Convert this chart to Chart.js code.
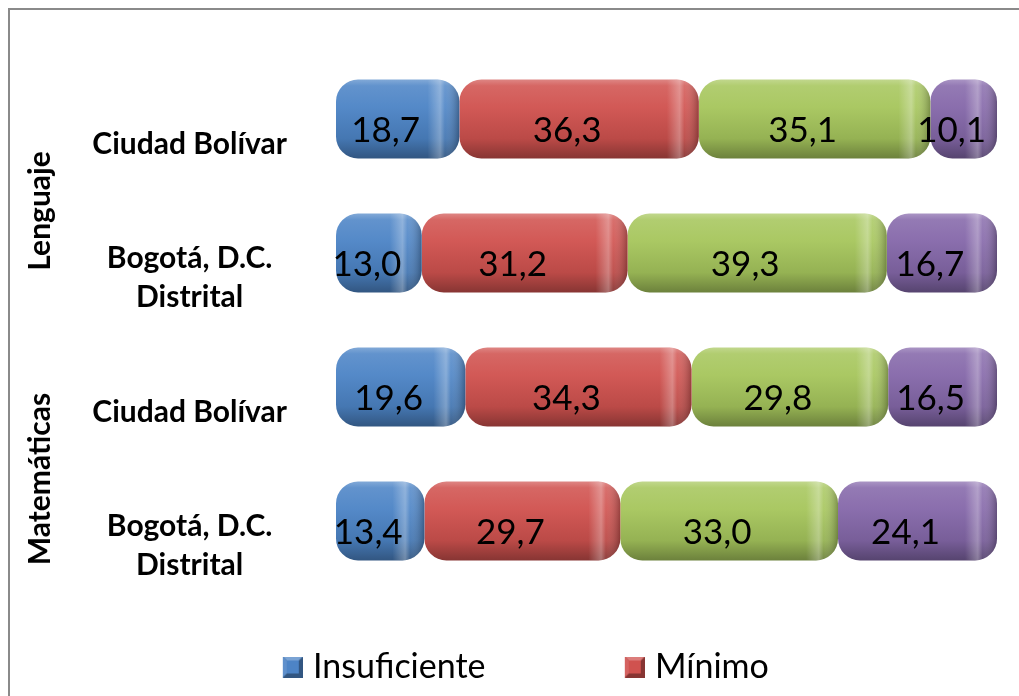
<!DOCTYPE html>
<html>
<head>
<meta charset="utf-8">
<script src="https://cdn.jsdelivr.net/npm/chart.js@4.4.1/dist/chart.umd.min.js"></script>
<style>
    html, body { margin: 0; padding: 0; background: #fff; overflow: hidden; }
    #marco { position: absolute; left: 8px; top: 8px; width: 1100px; height: 800px; border: 2px solid #8a8a8a; }
    #grafico { position: absolute; left: 0; top: 0; }
</style>
</head>
<body>
<div id="marco"><canvas id="grafico" width="1060" height="780"></canvas></div>
<script>
// Datos del gráfico
const categorias = ['Ciudad Bolívar', ['Bogotá, D.C.', 'Distrital'], 'Ciudad Bolívar', ['Bogotá, D.C.', 'Distrital']];
const areas = ['Lenguaje', 'Matemáticas'];
const niveles = ['Insuficiente', 'Mínimo', 'Satisfactorio', 'Avanzado'];
const insuficiente = [18.7, 13.0, 19.6, 13.4];
const minimo = [36.3, 31.2, 34.3, 29.7];
const satisfactorio = [35.1, 39.3, 29.8, 33.0];
const avanzado = [10.1, 16.7, 16.5, 24.1];
const colores = ['#4d84c6', '#d0524f', '#a6c65c', '#8568aa'];

const series = [insuficiente, minimo, satisfactorio, avanzado];
const totalMax = Math.max(...categorias.map((_, j) => series.reduce((s, arr) => s + arr[j], 0)));

const FUENTE = "Lato, 'Liberation Sans', sans-serif";
const BAR_PCT = 0.59;
const RADIO = 22;
const DESPLAZ = 25; // las etiquetas van un poco más abajo que las barras (efecto 3D)

// mezcla un color con blanco (t > 0) o negro (t < 0)
function mezcla(hex, t) {
    const n = parseInt(hex.slice(1), 16);
    const rgb = [(n >> 16) & 255, (n >> 8) & 255, n & 255];
    const fin = t > 0 ? 255 : 0;
    const a = Math.abs(t);
    return 'rgb(' + rgb.map((c) => Math.round(c + (fin - c) * a)).join(',') + ')';
}

// relleno tipo cilindro: degradado vertical en cada barra
function cilindro(hex) {
    return (ctx) => {
        const y = ctx.chart.scales.y;
        if (!y || ctx.dataIndex === undefined) return hex;
        const centro = y.getPixelForValue(ctx.dataIndex);
        const paso = Math.abs(y.getPixelForValue(1) - y.getPixelForValue(0));
        const mitad = paso * BAR_PCT / 2;
        if (!isFinite(centro) || !isFinite(mitad) || mitad <= 0) return hex;
        const g = ctx.chart.ctx.createLinearGradient(0, centro - mitad, 0, centro + mitad);
        g.addColorStop(0, mezcla(hex, 0.3));
        g.addColorStop(0.08, mezcla(hex, 0.12));
        g.addColorStop(0.35, mezcla(hex, 0.04));
        g.addColorStop(0.75, mezcla(hex, -0.1));
        g.addColorStop(1, mezcla(hex, -0.35));
        return g;
    };
}

// medidas de la leyenda
const PAD_LEYENDA = 62;
const medidor = document.createElement('canvas').getContext('2d');
medidor.font = '34px ' + FUENTE;
const anchoInsuf = medidor.measureText(niveles[0]).width;
const anchoCaja = 342 - 17 - anchoInsuf - PAD_LEYENDA;
const margenIzq = 303 - anchoCaja - 17 - PAD_LEYENDA;

// icono biselado de la leyenda, pegado al texto
function iconoLeyenda(hex) {
    const c = document.createElement('canvas');
    c.width = Math.round(anchoCaja + 14);
    c.height = 21;
    const g = c.getContext('2d');
    const x = c.width - 20;
    g.fillStyle = mezcla(hex, -0.35);
    g.fillRect(x, 0, 20, 21);
    g.fillStyle = mezcla(hex, 0.25);
    g.beginPath(); g.moveTo(x, 0); g.lineTo(x + 20, 0); g.lineTo(x + 16, 4); g.lineTo(x + 4, 4); g.closePath(); g.fill();
    g.fillStyle = mezcla(hex, 0.1);
    g.beginPath(); g.moveTo(x, 0); g.lineTo(x + 4, 4); g.lineTo(x + 4, 17); g.lineTo(x, 21); g.closePath(); g.fill();
    g.fillStyle = hex;
    g.fillRect(x + 4, 4, 12, 13);
    return c;
}
const iconos = colores.map(iconoLeyenda);

// el eje de categorías recorta sus textos a su caja: la abrimos hasta el borde
const ejeAbierto = {
    id: 'ejeAbierto',
    afterLayout(chart) {
        chart.scales.y.left = 0;
    }
};

// brillo en el extremo derecho de cada cilindro
const brilloCilindro = {
    id: 'brilloCilindro',
    afterDatasetsDraw(chart) {
        const ctx = chart.ctx;
        chart.data.datasets.forEach((ds, i) => {
            chart.getDatasetMeta(i).data.forEach((bar) => {
                const { x, base, y, height } = bar.getProps(['x', 'base', 'y', 'height'], true);
                const izq = Math.min(x, base), der = Math.max(x, base), arriba = y - height / 2;
                ctx.save();
                ctx.beginPath();
                ctx.roundRect(izq, arriba, der - izq, height, RADIO);
                ctx.clip();
                const g = ctx.createLinearGradient(der - 32, 0, der, 0);
                g.addColorStop(0, 'rgba(255,255,255,0)');
                g.addColorStop(0.4, 'rgba(255,255,255,0.3)');
                g.addColorStop(0.55, 'rgba(255,255,255,0.05)');
                g.addColorStop(1, 'rgba(0,0,0,0.28)');
                ctx.fillStyle = g;
                ctx.fillRect(der - 32, arriba, 32, height);
                ctx.restore();
            });
        });
    }
};

// valores dentro de cada segmento
const etiquetasValores = {
    id: 'etiquetasValores',
    afterDatasetsDraw(chart) {
        const ctx = chart.ctx;
        ctx.save();
        ctx.font = '35px ' + FUENTE;
        ctx.fillStyle = '#000';
        ctx.textAlign = 'center';
        ctx.textBaseline = 'middle';
        chart.data.datasets.forEach((ds, i) => {
            chart.getDatasetMeta(i).data.forEach((bar, j) => {
                const p = bar.getCenterPoint();
                ctx.fillText(ds.data[j].toFixed(1).replace('.', ','), p.x - 12, p.y + 12);
            });
        });
        ctx.restore();
    }
};

// nombres de las áreas, en vertical
const etiquetasAreas = {
    id: 'etiquetasAreas',
    afterDraw(chart) {
        const y = chart.scales.y;
        const ctx = chart.ctx;
        ctx.save();
        ctx.font = 'bold 30px ' + FUENTE;
        ctx.fillStyle = '#000';
        ctx.textAlign = 'center';
        ctx.textBaseline = 'middle';
        areas.forEach((texto, k) => {
            const yc = (y.getPixelForValue(2 * k) + y.getPixelForValue(2 * k + 1)) / 2 + DESPLAZ;
            ctx.save();
            ctx.translate(30, yc);
            ctx.rotate(-Math.PI / 2);
            ctx.fillText(texto, 0, 0);
            ctx.restore();
        });
        ctx.restore();
    }
};

new Chart(document.getElementById('grafico'), {
    type: 'bar',
    data: {
        labels: categorias,
        datasets: niveles.map((nombre, i) => ({
            label: nombre,
            data: series[i],
            backgroundColor: cilindro(colores[i]),
            borderWidth: 0,
            borderSkipped: false,
            borderRadius: { topLeft: RADIO, topRight: RADIO, bottomLeft: RADIO, bottomRight: RADIO },
            barPercentage: BAR_PCT,
            categoryPercentage: 1,
        })),
    },
    options: {
        indexAxis: 'y',
        responsive: false,
        animation: false,
        layout: { padding: { left: margenIzq, top: 42, right: 73, bottom: 0 } },
        scales: {
            x: { stacked: true, display: false, min: 0, max: totalMax },
            y: {
                stacked: true,
                grid: { display: false, drawTicks: false },
                border: { display: false },
                ticks: {
                    crossAlign: 'center',
                    padding: 49,
                    labelOffset: DESPLAZ,
                    autoSkip: false,
                    color: '#000',
                    font: { family: FUENTE, size: 30, weight: 'bold', lineHeight: 1.3 },
                },
                afterFit: (s) => {
                    s.width = 326 - margenIzq;
                    s.paddingTop = 0;
                    s.paddingBottom = 0;
                },
            },
        },
        plugins: {
            tooltip: { enabled: false },
            legend: {
                position: 'bottom',
                align: 'start',
                labels: {
                    usePointStyle: true,
                    pointStyleWidth: anchoCaja,
                    padding: PAD_LEYENDA,
                    color: '#000',
                    font: { family: FUENTE, size: 34 },
                    generateLabels: (chart) => Chart.defaults.plugins.legend.labels.generateLabels(chart)
                        .map((item, i) => Object.assign(item, { pointStyle: iconos[i] })),
                },
            },
        },
    },
    plugins: [ejeAbierto, brilloCilindro, etiquetasValores, etiquetasAreas],
});
</script>
</body>
</html>
